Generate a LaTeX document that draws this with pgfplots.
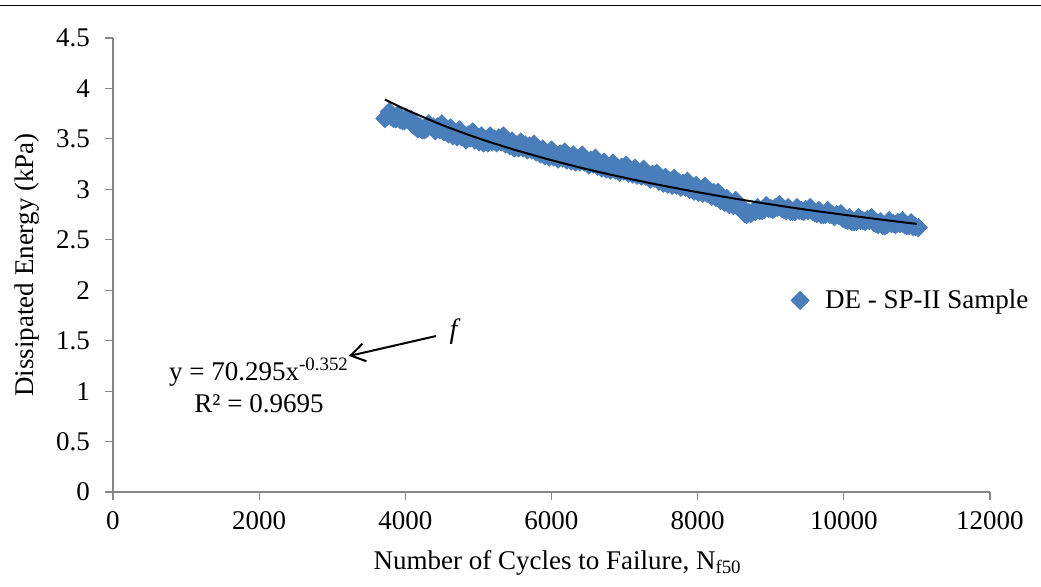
\documentclass[border=0pt]{standalone}
\usepackage{fontspec}
\setmainfont{Liberation Serif}
\usepackage{pgfplots}
\usepackage{pgfplotstable}
\pgfplotsset{compat=1.18}
\usetikzlibrary{arrows.meta}
\definecolor{deblue}{HTML}{4A7EBB}
\definecolor{axgray}{HTML}{868686}

\pgfplotstableread{
x y
3720 3.70
3780 3.77
3840 3.70
3900 3.74
3960 3.68
4020 3.71
4080 3.69
4140 3.62
4200 3.62
4260 3.59
4320 3.65
4380 3.62
4440 3.62
4500 3.65
4560 3.59
4620 3.61
4680 3.55
4740 3.59
4800 3.54
4860 3.54
4920 3.57
4980 3.51
5040 3.53
5100 3.49
5160 3.53
5220 3.50
5280 3.51
5340 3.53
5400 3.47
5460 3.48
5520 3.44
5580 3.47
5640 3.44
5700 3.43
5760 3.45
5820 3.39
5880 3.40
5940 3.35
6000 3.39
6060 3.35
6120 3.35
6180 3.37
6240 3.31
6300 3.34
6360 3.30
6420 3.34
6480 3.29
6540 3.29
6600 3.31
6660 3.25
6720 3.27
6780 3.22
6840 3.26
6900 3.22
6960 3.22
7020 3.24
7080 3.18
7140 3.21
7200 3.16
7260 3.20
7320 3.15
7380 3.15
7440 3.16
7500 3.10
7560 3.12
7620 3.07
7680 3.11
7740 3.07
7800 3.06
7860 3.08
7920 3.02
7980 3.04
8040 2.99
8100 3.03
8160 2.98
8220 2.97
8280 2.97
8340 2.90
8400 2.91
8460 2.86
8520 2.89
8580 2.84
8610 2.80
8640 2.76
8700 2.77
8760 2.78
8820 2.82
8880 2.79
8940 2.84
9000 2.81
9060 2.82
9120 2.85
9180 2.80
9240 2.82
9300 2.78
9360 2.82
9420 2.79
9480 2.80
9540 2.82
9600 2.77
9660 2.79
9720 2.75
9780 2.79
9840 2.75
9900 2.75
9960 2.76
10020 2.70
10080 2.72
10140 2.68
10200 2.72
10260 2.69
10320 2.70
10380 2.72
10440 2.66
10500 2.68
10560 2.64
10620 2.69
10680 2.66
10740 2.67
10800 2.69
10860 2.64
10920 2.67
10980 2.63
11020 2.62
}\dedata

\pgfplotstableread{
x y
3750 3.72
3810 3.72
3870 3.70
3930 3.69
3990 3.68
4050 3.68
4110 3.64
4170 3.60
4230 3.59
4290 3.60
4350 3.62
4410 3.58
4470 3.59
4530 3.57
4590 3.55
4650 3.53
4710 3.52
4770 3.52
4830 3.49
4890 3.51
4950 3.49
5010 3.47
5070 3.46
5130 3.46
5190 3.47
5250 3.46
5310 3.47
5370 3.45
5430 3.43
5490 3.41
5550 3.41
5610 3.41
5670 3.39
5730 3.39
5790 3.37
5850 3.35
5910 3.33
5970 3.32
6030 3.32
6090 3.30
6150 3.31
6210 3.29
6270 3.28
6330 3.27
6390 3.27
6450 3.27
6510 3.24
6570 3.25
6630 3.23
6690 3.21
6750 3.20
6810 3.19
6870 3.19
6930 3.17
6990 3.18
7050 3.16
7110 3.15
7170 3.14
7230 3.13
7290 3.13
7350 3.10
7410 3.11
7470 3.08
7530 3.06
7590 3.05
7650 3.04
7710 3.04
7770 3.02
7830 3.02
7890 3.00
7950 2.98
8010 2.97
8070 2.96
8130 2.96
8190 2.93
8250 2.92
8310 2.89
8370 2.87
8430 2.85
8490 2.84
8550 2.83
8670 2.75
8730 2.76
8790 2.78
8850 2.79
8910 2.80
8970 2.81
9030 2.80
9090 2.82
9150 2.81
9210 2.79
9270 2.78
9330 2.78
9390 2.79
9450 2.78
9510 2.79
9570 2.78
9630 2.76
9690 2.75
9750 2.75
9810 2.75
9870 2.73
9930 2.74
9990 2.71
10050 2.69
10110 2.68
10170 2.68
10230 2.69
10290 2.68
10350 2.69
10410 2.67
10470 2.65
10530 2.64
10590 2.65
10650 2.66
10710 2.65
10770 2.66
10830 2.65
10890 2.64
10950 2.63
}\dedatab

\begin{document}
\begin{tikzpicture}
\useasboundingbox (-56.5pt,-47pt) rectangle (464pt,246pt);
\draw[line width=0.6pt] (-56.5pt,243.2pt) -- (464pt,243.2pt);
\begin{axis}[
  clip mode=individual,
  scale only axis,
  width=438.5pt, height=227pt,
  xmin=0, xmax=12000, ymin=0, ymax=4.5,
  axis lines=left,
  axis line style={-, draw=axgray, line width=0.6pt},
  xtick={0,2000,...,12000},
  ytick={0,0.5,...,4.5},
  tick align=outside,
  major tick length=4pt,
  tick style={axgray, line width=0.6pt},
  scaled x ticks=false,
  /pgf/number format/1000 sep={},
  /pgf/number format/assume math mode=true,
  tick label style={font=\fontsize{13.5}{15}\selectfont, black},
  yticklabel style={xshift=-4pt},
  xticklabel style={yshift=-2pt},
  xlabel={Number of Cycles to Failure, N\textsubscript{f50}},
  ylabel={Dissipated Energy (kPa)},
  label style={font=\fontsize{13.5}{15}\selectfont},
  xlabel style={at={(axis description cs:0.507,-0.156)}, anchor=center},
  ylabel style={at={(axis description cs:-0.098,0.5)}, anchor=center},
  legend style={draw=none, fill=none, at={(axis cs:9190,1.9)}, anchor=west,
    font=\fontsize{13.5}{15}\selectfont},
  legend cell align=left,
]
\addplot[only marks, mark=square*, mark size=3.2pt,
  mark options={rotate=45, fill=deblue, draw=deblue}] table[x=x,y=y] {\dedata};
\addlegendentry{\hspace{6pt}DE - SP-II Sample}
\addplot[only marks, mark=square*, mark size=3.2pt, forget plot,
  mark options={rotate=45, fill=deblue, draw=deblue}] table[x=x,y=y] {\dedatab};
\addplot[black, line width=1pt, smooth, forget plot] coordinates {
(3720,3.891) (4000,3.793) (4500,3.639) (5000,3.506) (5500,3.391) (6000,3.289)
(6500,3.197) (7000,3.115) (7500,3.040) (8000,2.972) (8500,2.909) (9000,2.851)
(9500,2.797) (10000,2.748) (10500,2.701) (11000,2.657)};
\node[font=\fontsize{13.5}{15}\selectfont] at (axis cs:1998,1.189) {y = 70.295x\textsuperscript{-0.352}};
\node[font=\fontsize{13.5}{15}\selectfont] at (axis cs:1998,0.872) {R² = 0.9695};
\draw[-{Straight Barb[length=7pt,width=9pt]}, line width=1pt] (axis cs:4420,1.546) -- (axis cs:3229,1.348);
\node[font=\itshape\fontsize{14}{16}\selectfont] at (axis cs:4660,1.59) {f};
\end{axis}
\end{tikzpicture}
\end{document}
